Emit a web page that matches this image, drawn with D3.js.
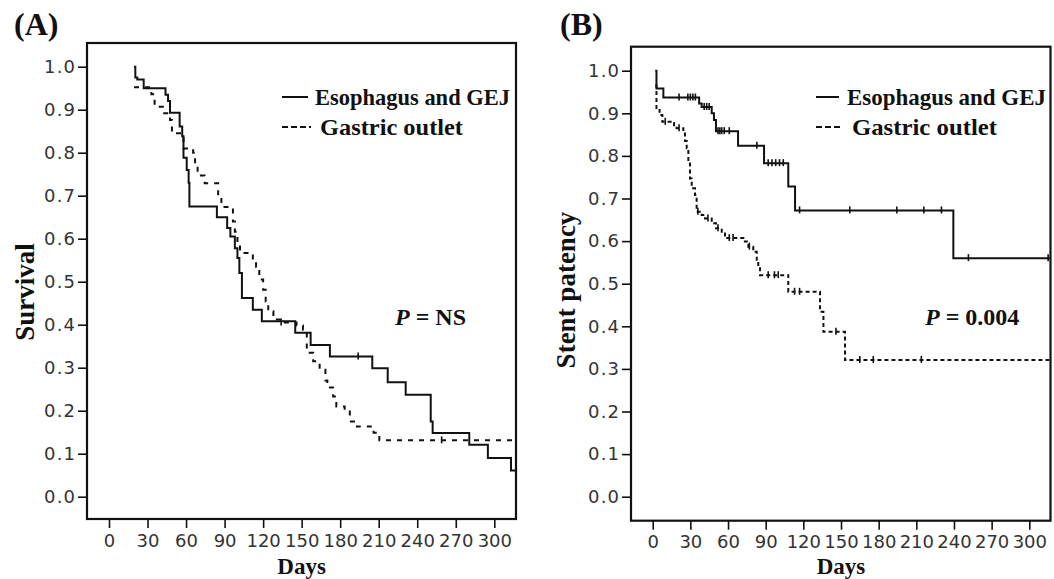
<!DOCTYPE html>
<html lang="en">
<head>
<meta charset="UTF-8" />
<title>Survival and stent patency</title>
<script src="https://cdn.jsdelivr.net/npm/d3@7/dist/d3.min.js"></script>
<style>
  body { margin: 0; background: #fff; }
  .tick text { font-family: "DejaVu Sans", sans-serif; font-size: 18px; fill: #333; }
  .serif { font-family: "Liberation Serif", "Times New Roman", serif; font-weight: bold; fill: #111; }
</style>
</head>
<body>
<svg id="chart" width="1054" height="579"></svg>
<script>
// tick values shared by both panels
var xTicks = [0, 30, 60, 90, 120, 150, 180, 210, 240, 270, 300];
var yTicks = [0, 0.1, 0.2, 0.3, 0.4, 0.5, 0.6, 0.7, 0.8, 0.9, 1.0];

// (A) survival, [day, proportion] step points
var survEso = [[19.5,1.0],[20.5,0.975],[22,0.97],[27,0.95],[44,0.935],[46,0.92],[47.5,0.893],
  [55,0.861],[57,0.838],[58,0.788],[60.5,0.76],[62,0.73],[62.6,0.675],[84,0.65],[92,0.625],
  [94.5,0.605],[98,0.578],[100,0.555],[101.5,0.52],[103.5,0.462],[112,0.435],[119,0.408],
  [145,0.381],[157,0.353],[172,0.326],[205,0.299],[217,0.266],[231,0.237],[250.5,0.175],
  [252,0.148],[280.5,0.121],[295,0.09],[313,0.061],[317,0.061]];
var survGas = [[19.5,0.952],[33,0.936],[35.5,0.907],[42,0.892],[47.5,0.876],[49,0.845],[58,0.81],
  [65.5,0.80],[67,0.771],[69,0.747],[74.5,0.729],[85,0.698],[87.5,0.674],[96.5,0.64],[98,0.616],
  [100,0.59],[102,0.567],[112,0.551],[114.5,0.535],[117,0.505],[120,0.481],[122,0.454],[124,0.431],
  [128,0.412],[134,0.405],[146,0.398],[151,0.388],[154,0.335],[159,0.315],[164,0.295],[168.5,0.27],
  [170,0.254],[174.5,0.233],[177,0.21],[183.5,0.198],[187.5,0.175],[193,0.163],[206,0.149],
  [210.5,0.131],[317,0.131]];
var survEsoCens = [[194,0.326]];
var survGasCens = [[134,0.405],[259,0.131]];

// (B) stent patency
var patEso = [[2,1.0],[3,0.958],[8.5,0.937],[37,0.923],[39,0.915],[47,0.90],[48.8,0.884],
  [50.4,0.858],[68,0.824],[88.7,0.783],[108,0.728],[113.4,0.672],[239.5,0.56],[317,0.56]];
var patGas = [[2,0.966],[3,0.908],[5.5,0.896],[7.7,0.88],[14.3,0.877],[17,0.869],[19,0.865],
  [24.4,0.857],[25.7,0.835],[27.1,0.818],[28.4,0.786],[29.7,0.747],[31.1,0.724],[33.7,0.708],
  [35,0.669],[39,0.661],[41.7,0.653],[47,0.642],[50.4,0.63],[55,0.618],[57.6,0.607],[72.2,0.599],
  [76.2,0.587],[80.1,0.575],[82.9,0.556],[84.1,0.54],[85.5,0.52],[108,0.481],[133.3,0.434],
  [136,0.387],[153.2,0.321],[317,0.321]];
var patEsoCens = [[21,0.937],[28,0.937],[30,0.937],[32,0.937],[34,0.937],[41,0.915],[43,0.915],
  [45,0.915],[52,0.858],[53.5,0.858],[55,0.858],[57,0.858],[61,0.858],[83,0.824],[92,0.783],
  [95,0.783],[98,0.783],[101,0.783],[104,0.783],[117,0.672],[157,0.672],[194.5,0.672],[216,0.672],
  [230,0.672],[251.5,0.56],[315,0.56]];
var patGasCens = [[10,0.88],[21,0.865],[36,0.669],[44,0.653],[52,0.63],[61,0.607],[64,0.607],
  [77,0.587],[92,0.52],[97,0.52],[100,0.52],[113,0.481],[117,0.481],[146,0.387],[165,0.321],
  [175.7,0.321],[214,0.321]];

var svg = d3.select("#chart");

function drawPanel(p) {
  var g = svg.append("g");
  var x = d3.scaleLinear().domain([0, 300]).range([p.x0, p.x300]);
  var y = d3.scaleLinear().domain([0, 1]).range([p.y0, p.y1]);

  // frame
  g.append("rect")
    .attr("x", p.left).attr("y", p.top)
    .attr("width", p.right - p.left).attr("height", p.bottom - p.top)
    .attr("fill", "none").attr("stroke", "#111").attr("stroke-width", 2.2);

  var yAxis = g.append("g")
    .attr("transform", "translate(" + p.left + ",0)")
    .call(d3.axisLeft(y).tickValues(yTicks).tickSize(9).tickPadding(3).tickFormat(d3.format(".1f")));
  var xAxis = g.append("g")
    .attr("transform", "translate(0," + p.bottom + ")")
    .call(d3.axisBottom(x).tickValues(xTicks).tickSize(9).tickPadding(6));
  [yAxis, xAxis].forEach(function(a) {
    a.select(".domain").remove();
    a.selectAll(".tick line").attr("stroke", "#111").attr("stroke-width", 1.6);
  });
  yAxis.selectAll(".tick text").attr("textLength", 31).attr("lengthAdjust", "spacing");

  var line = d3.line()
    .x(function(d) { return x(d[0]); })
    .y(function(d) { return y(d[1]); })
    .curve(d3.curveStepAfter);

  g.append("path").datum(p.solid)
    .attr("d", line).attr("fill", "none").attr("stroke", "#111").attr("stroke-width", 2);
  g.append("path").datum(p.dashed)
    .attr("d", line).attr("fill", "none").attr("stroke", "#111").attr("stroke-width", 2)
    .attr("stroke-dasharray", p.dash);

  // censored marks
  g.selectAll("line.cens")
    .data(p.solidCens.concat(p.dashedCens))
    .enter().append("line")
    .attr("class", "cens")
    .attr("x1", function(d) { return x(d[0]); })
    .attr("x2", function(d) { return x(d[0]); })
    .attr("y1", function(d) { return y(d[1]) - 4; })
    .attr("y2", function(d) { return y(d[1]) + 3; })
    .attr("stroke", "#111").attr("stroke-width", 1.6);

  // legend
  g.append("line")
    .attr("x1", p.leg[0]).attr("x2", p.leg[1]).attr("y1", 97).attr("y2", 97)
    .attr("stroke", "#111").attr("stroke-width", 2);
  g.append("text").attr("class", "serif")
    .attr("x", p.leg[2]).attr("y", 105).style("font-size", "23px")
    .attr("textLength", p.legW[0]).attr("lengthAdjust", "spacingAndGlyphs")
    .text("Esophagus and GEJ");
  g.append("line")
    .attr("x1", p.leg[0]).attr("x2", p.leg[1] + 3).attr("y1", 127).attr("y2", 127)
    .attr("stroke", "#111").attr("stroke-width", 2).attr("stroke-dasharray", "6,3");
  g.append("text").attr("class", "serif")
    .attr("x", p.leg[2] + 5).attr("y", 135).style("font-size", "23px")
    .attr("textLength", p.legW[1]).attr("lengthAdjust", "spacingAndGlyphs")
    .text("Gastric outlet");

  // p value
  var pt = g.append("text").attr("class", "serif")
    .attr("x", p.pPos[0]).attr("y", p.pPos[1]).style("font-size", "24px");
  pt.append("tspan").style("font-style", "italic").text("P");
  pt.append("tspan").text(" = " + p.pText);

  // panel letter
  g.append("text").attr("class", "serif")
    .attr("x", p.letterX).attr("y", 35).style("font-size", "32px")
    .text(p.letter);

  // axis titles
  g.append("text").attr("class", "serif")
    .attr("text-anchor", "middle")
    .attr("transform", "translate(" + p.yLab[0] + "," + p.yLab[1] + ") rotate(-90)")
    .attr("dy", "0.35em")
    .style("font-size", "27px")
    .text(p.yTitle);
  g.append("text").attr("class", "serif")
    .attr("text-anchor", "middle")
    .attr("x", (p.x0 + p.x300) / 2).attr("y", 574)
    .style("font-size", "23px")
    .text("Days");
}

drawPanel({
  left: 87, top: 43, right: 516, bottom: 519,
  x0: 109, x300: 494.3, y0: 496.7, y1: 66.7,
  solid: survEso, dashed: survGas, solidCens: survEsoCens, dashedCens: survGasCens,
  dash: "5,6",
  leg: [282, 308, 315], legW: [195, 143], pPos: [395, 325], pText: "NS",
  letter: "(A)", letterX: 14,
  yLab: [25, 292], yTitle: "Survival"
});

drawPanel({
  left: 631, top: 46.7, right: 1050.5, bottom: 520.7,
  x0: 652.7, x300: 1029.3, y0: 496.7, y1: 70.7,
  solid: patEso, dashed: patGas, solidCens: patEsoCens, dashedCens: patGasCens,
  dash: "4,3",
  leg: [816, 839, 847], legW: [199, 145], pPos: [925, 325], pText: "0.004",
  letter: "(B)", letterX: 560,
  yLab: [566, 290], yTitle: "Stent patency"
});
</script>
</body>
</html>
